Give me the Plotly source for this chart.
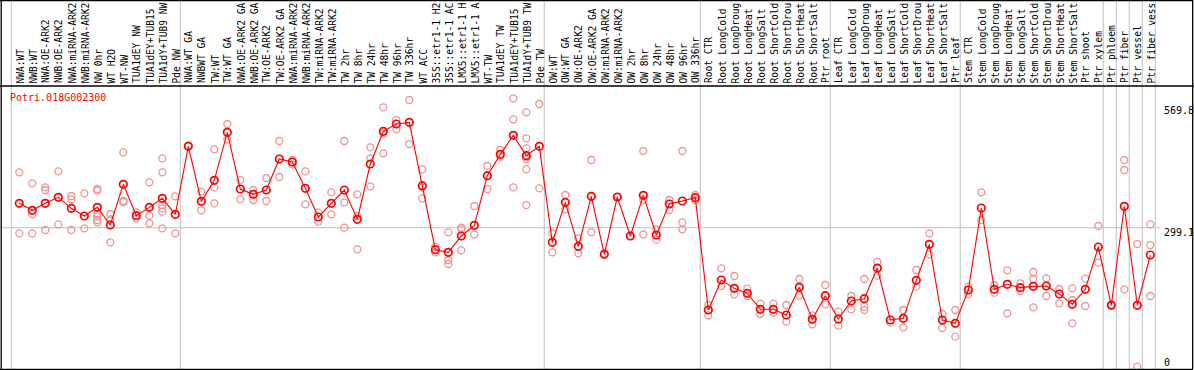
import plotly.graph_objects as go

gene_title = "Potri.018G002300"

categories = [
    "NWA:WT", "NWB:WT", "NWA:OE-ARK2", "NWB:OE-ARK2", "NWA:miRNA-ARK2", "NWB:miRNA-ARK2",
    "NW 0hr", "WT H2O", "WT-NW", "TUA1dEY NW", "TUA1dEY+TUB15", "TUA1dY+TUB9 NW", "Pde NW",
    "NWA:WT GA", "NWBWT GA", "TW:WT", "TW:WT GA", "NWA:OE-ARK2 GA", "NWB:OE-ARK2 GA",
    "TW:OE-ARK2", "TW:OE-ARK2 GA", "NWA:miRNA-ARK2", "NWB:miRNA-ARK2", "TW:miRNA-ARK2",
    "TW:miRNA-ARK2", "TW 2hr", "TW 8hr", "TW 24hr", "TW 48hr", "TW 96hr", "TW 336hr",
    "WT ACC", "35S::etr1-1 H2", "35S::etr1-1 AC", "LMX5::etr1-1 H", "LMX5::etr1-1 A",
    "WT-TW", "TUA1dEY TW", "TUA1dEY+TUB15", "TUA1dY+TUB9 TW", "Pde TW",
    "OW:WT", "OW:WT GA", "OW:OE-ARK2", "OW:OE-ARK2 GA", "OW:miRNA-ARK2", "OW:miRNA-ARK2",
    "OW 2hr", "OW 8hr", "OW 24hr", "OW 48hr", "OW 96hr", "OW 336hr",
    "Root CTR", "Root LongCold", "Root LongDroug", "Root LongHeat", "Root LongSalt",
    "Root ShortCold", "Root ShortDrou", "Root ShortHeat", "Root ShortSalt", "Ptr root",
    "Leaf CTR", "Leaf LongCold", "Leaf LongDroug", "Leaf LongHeat", "Leaf LongSalt",
    "Leaf ShortCold", "Leaf ShortDrou", "Leaf ShortHeat", "Leaf ShortSalt", "Ptr leaf",
    "Stem CTR", "Stem LongCold", "Stem LongDroug", "Stem LongHeat", "Stem LongSalt",
    "Stem ShortCold", "Stem ShortDrou", "Stem ShortHeat", "Stem ShortSalt", "Ptr shoot",
    "Ptr xylem", "Ptr phloem", "Ptr fiber", "Ptr vessel", "Ptr fiber vess",
]

mean_values = [
    350.1, 335.5, 350.1, 362.7, 339.7, 323.6, 341.7, 304.8, 389.9, 324.3, 341.7, 360.6, 327.1,
    469.4, 354.3, 398.2, 498.6, 380.1, 368.9, 378.0, 442.9, 436.6, 381.5, 321.5, 350.1,
    378.0, 316.6, 432.4, 500.7, 516.1, 519.6, 387.1, 253.2, 247.6, 281.8, 304.1, 408.0,
    452.6, 492.4, 449.8, 469.4,
    268.5, 352.2, 260.2, 364.8, 243.4, 363.4, 281.8, 366.9, 283.9, 348.7, 355.0, 362.0,
    127.0, 189.7, 172.3, 161.8, 128.4, 128.4, 116.5, 174.4, 107.4, 157.0,
    108.1, 145.8, 150.7, 214.8, 106.1, 109.6, 189.0, 264.3, 106.1, 99.1,
    168.8, 340.4, 170.2, 180.7, 173.7, 176.5, 177.2, 160.5, 138.8, 170.2,
    258.8, 136.7, 343.8, 136.7, 242.0,
]

replicate_values = [
    [415.0, 287.4], [391.9, 327.8, 287.4], [383.6, 378.0, 294.3], [417.1, 306.2],
    [365.5, 358.5, 294.3], [371.0, 297.8], [380.1, 376.6, 327.8, 322.2, 315.3, 310.4],
    [327.8, 316.6, 268.5], [456.8, 355.0, 352.9], [331.3, 318.7], [394.0, 324.3, 308.3],
    [444.3, 415.0, 346.6, 339.7, 332.7, 297.8], [364.8, 287.4],
    [471.4], [374.5, 335.5], [463.1, 383.6, 350.1], [516.1, 484.0], [398.9, 358.5],
    [378.0, 357.1], [403.1, 355.0], [480.5, 405.2], [440.8, 431.7], [417.1, 348.0],
    [330.6, 311.8], [373.1, 327.1], [480.5, 352.2, 299.2], [368.9, 323.6, 253.9],
    [467.3, 444.3, 385.7], [550.9, 496.5, 454.7], [524.4, 504.9], [566.3, 474.2],
    [421.2, 383.6, 360.6], [259.5, 247.6], [289.5, 231.6, 223.2], [299.2, 295.7, 251.8],
    [344.5, 285.3], [428.2, 380.1], [461.7, 447.7], [569.8, 525.8, 383.6],
    [540.5, 486.1, 465.2, 447.7, 442.9, 421.2, 346.6], [557.9, 381.5],
    [287.4, 247.6], [367.6, 337.6], [276.9, 245.5], [440.8, 289.5], [245.5], [363.4],
    [281.8], [459.6, 357.1, 285.3], [295.7, 274.1], [357.1, 336.2], [459.6, 310.4, 295.7],
    [367.6, 357.1],
    [137.4, 115.8], [214.1, 177.2], [198.1, 159.8], [171.6, 156.3], [140.2, 118.6],
    [140.2, 121.4], [137.4, 102.6], [191.8, 157.7], [115.8, 97.0], [179.3, 138.8],
    [123.5, 94.2], [156.3, 128.4], [191.8, 133.9, 127.0], [228.1, 198.8], [100.5],
    [127.0, 90.7], [210.7, 175.8], [287.4, 243.4], [118.6, 89.3], [127.0, 71.2],
    [175.8, 160.5], [373.1, 315.3], [179.3, 163.3], [210.0, 120.0], [182.8, 166.7],
    [206.5, 191.8, 132.6], [193.2, 156.3], [170.9, 140.9], [172.3, 147.9, 99.1],
    [192.5, 135.4], [302.7, 226.0], [138.8], [440.8, 419.9, 170.2], [265.0, 8.4],
    [306.2, 262.9, 156.3],
]

axis_labels = ["569.8", "299.1", "0"]
grid_value = 299.1
group_ends = [-1, 12, 40, 52, 62, 72, 83, 84, 85, 86, 87]

W, H = 1194, 370
mono = "DejaVu Sans Mono"

# pixel geometry
x0_px, dx_px = 19.3, 13.0
y0_px, sy = 370.7, 0.478
xr = [-x0_px / dx_px, (W - x0_px) / dx_px]
yr = [(y0_px - H) / sy, y0_px / sy]

def py(p):
    return 1 - p / H

idx = list(range(len(categories)))
rx, ry = [], []
for i, reps in enumerate(replicate_values):
    for v in reps:
        rx.append(i)
        ry.append(v)

fig = go.Figure()
fig.add_trace(go.Scatter(
    x=rx, y=ry, mode="markers", cliponaxis=False,
    marker=dict(symbol="circle-open", size=7, color="#EE9494", line=dict(width=1.3)),
    hoverinfo="skip", showlegend=False))
fig.add_trace(go.Scatter(
    x=idx, y=mean_values, mode="lines+markers", cliponaxis=False,
    line=dict(color="#FF0000", width=1.1),
    marker=dict(symbol="circle-open", size=7.5, color="#FF0000", line=dict(width=1.7)),
    showlegend=False))

shapes = []
for k in group_ends:
    shapes.append(dict(type="line", xref="x", yref="paper", x0=k + 0.38, x1=k + 0.38,
                       y0=py(369), y1=1, line=dict(color="#C0C0C0", width=1), layer="below"))
shapes.append(dict(type="line", xref="paper", yref="y", x0=1 / W, x1=1160 / W,
                   y0=grid_value, y1=grid_value, line=dict(color="#C0C0C0", width=1), layer="below"))
# black frame
for (xa, xb, ya, yb) in [(0, W, 86, 86), (0, 1193, 369.3, 369.3), (0, 1193, 0.5, 0.5),
                         (1.2, 1.2, 0, 369.5), (1192.7, 1192.7, 0, 369.5)]:
    shapes.append(dict(type="line", xref="paper", yref="paper", x0=xa / W, x1=xb / W,
                       y0=py(ya), y1=py(yb), line=dict(color="black", width=1.3)))

annotations = []
for i, lab in enumerate(categories):
    annotations.append(dict(x=i + 0.02, y=py(84.5), xref="x", yref="paper", text=lab,
                            showarrow=False, textangle=-90, xanchor="center", yanchor="bottom",
                            borderpad=0, font=dict(family=mono, size=9.6, color="black")))
annotations.append(dict(x=8 / W, y=py(97), xref="paper", yref="paper", text=gene_title,
                        showarrow=False, xanchor="left", yanchor="middle",
                        font=dict(family=mono, size=10, color="#FF0000")))
for lab, p in zip(axis_labels, [110, 232.7, 362.3]):
    annotations.append(dict(x=1162 / W, y=py(p), xref="paper", yref="paper", text=lab,
                            showarrow=False, xanchor="left", yanchor="middle",
                            font=dict(family=mono, size=10, color="black")))

fig.update_layout(
    width=W, height=H, margin=dict(l=0, r=0, t=0, b=0),
    paper_bgcolor="white", plot_bgcolor="white",
    xaxis=dict(range=xr, visible=False, fixedrange=True),
    yaxis=dict(range=yr, visible=False, fixedrange=True),
    shapes=shapes, annotations=annotations,
)

fig.write_html("out.html", config={"displayModeBar": False},
               post_script="document.body.style.margin='0';document.body.style.overflow='hidden';")
